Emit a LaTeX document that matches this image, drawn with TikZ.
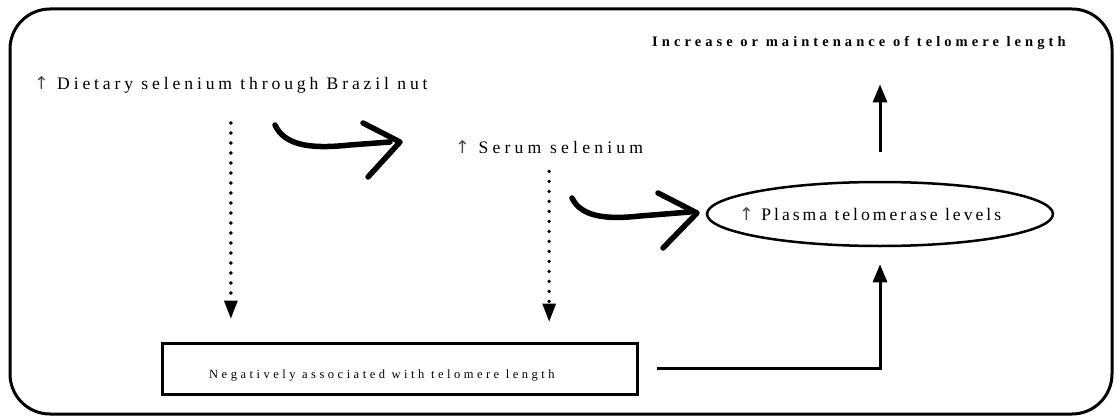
\documentclass[tikz,border=0pt]{standalone}
\usepackage{fontspec}
\setmainfont{Liberation Serif}
\newfontfamily\spacedfont[LetterSpace=22]{Liberation Serif}
\newfontfamily\serumfont[LetterSpace=24]{Liberation Serif}
\newfontfamily\plasmafont[LetterSpace=17]{Liberation Serif}
\newfontfamily\spacedsmall[LetterSpace=28]{Liberation Serif}
\newfontfamily\spacedbold[LetterSpace=28]{Liberation Serif Bold}
\newfontfamily\arrowfont{DejaVu Sans}
\newcommand{\uparr}{{\arrowfont\color{black!70}↑}}
\usetikzlibrary{arrows.meta,shapes.geometric}

\tikzset{
  flowtext/.style={inner sep=0pt, font=\spacedfont\fontsize{17.6}{19}\selectfont},
  serumtext/.style={inner sep=0pt, font=\serumfont\fontsize{17.6}{19}\selectfont},
  plasmatext/.style={inner sep=0pt, font=\plasmafont\fontsize{17.6}{19}\selectfont},
  boxtext/.style={inner sep=0pt, font=\spacedsmall\fontsize{12.5}{14}\selectfont},
  headtext/.style={inner sep=0pt, font=\spacedbold\fontsize{14.5}{16}\selectfont},
  frame/.style={line width=3pt, rounded corners=40pt},
  solidarrow/.style={line width=3pt, -{Triangle[width=14pt,length=18pt]}},
  dotarrow/.style={line width=3.8pt, line cap=round, dash pattern=on 0pt off 10pt,
    -{Triangle[width=14pt,length=18pt,line width=0pt]}},
  brush/.style={line width=5.5pt, line cap=round, line join=round},
}

\begin{document}
\begin{tikzpicture}[x=1pt,y=-1pt]
\useasboundingbox (0,0) rectangle (1115,417);

% outer rounded frame
\draw[frame] (10,9) rectangle (1112,414);

% text nodes
\node[flowtext, anchor=base west] (diet) at (34,90) {\uparr{} Dietary selenium through Brazil nut};
\node[serumtext, anchor=base west] (serum) at (455,153) {\uparr{} Serum selenium};
\node[draw, ellipse, line width=2.5pt, minimum width=346pt, minimum height=64pt,
      inner sep=0pt] (plasma) at (880,214) {};
\node[plasmatext, anchor=base west] (plasmatxt) at (739,220) {\uparr{} Plasma telomerase levels};
\node[headtext, anchor=base west] (incr) at (652,47) {Increase or maintenance of telomere length};
\node[draw, line width=3pt, minimum width=475pt, minimum height=51pt] (neg) at (400,368.5) {};
\node[boxtext, anchor=base west] (negtext) at (209,378) {Negatively associated with telomere length};

% dotted links down to the box
\draw[dotarrow, shorten <=29pt, shorten >=23pt] (diet.south) -- (diet.south |- neg.north);
\draw[dotarrow, shorten <=18pt, shorten >=20pt] (serum.south) -- (serum.south |- neg.north);

% solid links
\draw[solidarrow, shorten <=29pt, shorten >=34pt] (plasma.north) -- (plasma.north |- incr.south);
\draw[solidarrow, shorten <=18pt, shorten >=17pt] (neg.east) -| (plasma.south);

% brush-stroke arrows
\draw[brush] (275,125) .. controls (286,149) and (320,148) .. (350,145) -- (390,142);
\draw[brush] (363,123) -- (400,142) -- (368,177);
\draw[brush] (572,198) .. controls (582,219) and (612,219) .. (640,216) -- (690,212);
\draw[brush] (658,193) -- (697,213) -- (663,248);
\end{tikzpicture}
\end{document}
